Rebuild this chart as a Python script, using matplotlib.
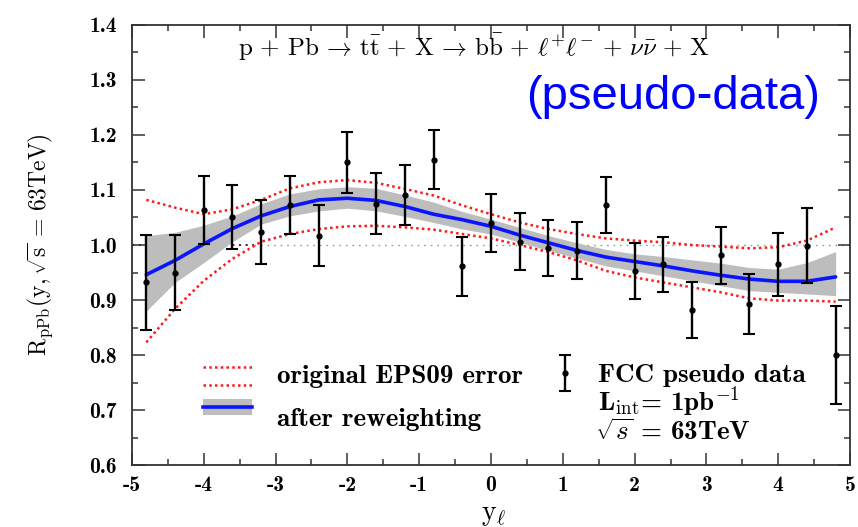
import numpy as np
import matplotlib
matplotlib.use("Agg")
import matplotlib.pyplot as plt
from matplotlib.ticker import MultipleLocator

plt.rcParams["mathtext.fontset"] = "cm"
plt.rcParams["axes.unicode_minus"] = False

# Rapidity grid shared by pseudo-data and curves
y_lep = [-4.8, -4.4, -4.0, -3.6, -3.2, -2.8, -2.4, -2.0, -1.6, -1.2, -0.8, -0.4,
         0.0, 0.4, 0.8, 1.2, 1.6, 2.0, 2.4, 2.8, 3.2, 3.6, 4.0, 4.4, 4.8]

# FCC pseudo data and uncertainties
data_val = [0.932, 0.950, 1.064, 1.051, 1.023, 1.073, 1.017, 1.150, 1.075, 1.091,
            1.155, 0.961, 1.040, 1.006, 0.994, 0.990, 1.073, 0.953, 0.965, 0.882,
            0.981, 0.893, 0.965, 0.999, 0.800]
data_err = [0.086, 0.068, 0.062, 0.058, 0.058, 0.053, 0.056, 0.055, 0.055, 0.055,
            0.054, 0.053, 0.053, 0.052, 0.051, 0.051, 0.051, 0.051, 0.050, 0.051,
            0.051, 0.054, 0.057, 0.068, 0.089]

# Reweighted central value and its band
rew_central = [0.946, 0.972, 1.002, 1.030, 1.053, 1.070, 1.082, 1.085, 1.081, 1.070,
               1.056, 1.046, 1.034, 1.018, 1.004, 0.990, 0.978, 0.970, 0.962, 0.953,
               0.945, 0.938, 0.934, 0.934, 0.942]
rew_upper = [1.017, 1.023, 1.036, 1.053, 1.075, 1.093, 1.102, 1.106, 1.103, 1.091,
             1.078, 1.061, 1.047, 1.032, 1.017, 1.004, 0.992, 0.984, 0.979, 0.973,
             0.967, 0.959, 0.956, 0.968, 0.988]
rew_lower = [0.880, 0.932, 0.968, 1.006, 1.038, 1.053, 1.062, 1.067, 1.062, 1.052,
             1.041, 1.029, 1.020, 1.005, 0.990, 0.976, 0.962, 0.953, 0.944, 0.935,
             0.926, 0.917, 0.914, 0.911, 0.908]

# Original EPS09 error envelope
eps_upper = [1.082, 1.068, 1.056, 1.065, 1.082, 1.103, 1.114, 1.118, 1.113, 1.102,
             1.090, 1.072, 1.056, 1.041, 1.029, 1.020, 1.012, 1.008, 1.005, 1.000,
             0.997, 0.994, 0.996, 1.008, 1.032]
eps_lower = [0.823, 0.884, 0.935, 0.975, 1.006, 1.020, 1.029, 1.034, 1.035, 1.032,
             1.028, 1.020, 1.012, 1.000, 0.987, 0.972, 0.953, 0.941, 0.932, 0.923,
             0.914, 0.903, 0.899, 0.899, 0.897]

x_ticks = [-5, -4, -3, -2, -1, 0, 1, 2, 3, 4, 5]
y_ticks = [0.6, 0.7, 0.8, 0.9, 1.0, 1.1, 1.2, 1.3, 1.4]

BOLD = "cmb10"
RED = "#ff1a1a"
BAND = "#bdbdbd"
BLUE = "#0a14ff"
dots = (0, (1.0, 1.3))
LEG_FS = 19.5

fig = plt.figure(figsize=(8.58, 5.27), dpi=100)
ax = fig.add_axes([0.1538, 0.1176, 0.9907 - 0.1538, 0.9526 - 0.1176])

# reference line at unity
ax.plot([-5, -3.3], [1.0, 1.0], color="#222222", lw=1.3, ls=(0, (1.2, 2.5)), zorder=1)
ax.plot([-3.3, 5], [1.0, 1.0], color="#999999", lw=1.0, ls=(0, (1.2, 3.5)), zorder=1)

ax.fill_between(y_lep, rew_lower, rew_upper, color=BAND, lw=0, zorder=2)
ax.plot(y_lep, eps_upper, color=RED, lw=1.8, ls=dots, zorder=3)
ax.plot(y_lep, eps_lower, color=RED, lw=1.8, ls=dots, zorder=3)
ax.plot(y_lep, rew_central, color=BLUE, lw=2.6, zorder=4, solid_capstyle="round")
ax.errorbar(y_lep, data_val, yerr=data_err, fmt="o", color="black", ms=3.5,
            elinewidth=1.7, capsize=4, capthick=1.5, zorder=5)

ax.set_xlim(-5, 5)
ax.set_ylim(0.6, 1.4)
ax.set_xticks(x_ticks)
ax.set_yticks(y_ticks)
ax.set_xticklabels([str(v) for v in x_ticks])
ax.set_yticklabels([f"{v:.1f}" for v in y_ticks])
ax.xaxis.set_minor_locator(MultipleLocator(0.5))
ax.yaxis.set_minor_locator(MultipleLocator(0.05))
ax.tick_params(which="both", direction="in", top=True, right=True, color="#333333", width=1.1)
ax.tick_params(which="major", length=9)
ax.tick_params(which="minor", length=4.5)
ax.tick_params(axis="y", which="major", pad=11)
ax.tick_params(axis="x", which="major", pad=8)
for lab in ax.get_xticklabels() + ax.get_yticklabels():
    lab.set_fontfamily(BOLD)
    lab.set_fontsize(15.5)
for sp in ax.spines.values():
    sp.set_color("#333333")
    sp.set_linewidth(1.3)

fig.text(40 / 858, 0.535, r"$\mathrm{R}_{\mathrm{pPb}}(\mathrm{y},\sqrt{\mathrm{s}}\,=\,63\mathrm{TeV})$",
         rotation=90, ha="center", va="center", fontsize=17)
fig.text(0.575, 0.025, r"$\mathrm{y}_{\ell}$", ha="center", va="center", fontsize=20)

ax.text(0.476, 0.95,
        r"$\mathrm{p}\,+\,\mathrm{Pb}\,\rightarrow\,\mathrm{t}\bar{\mathrm{t}}\,+\,\mathrm{X}\,\rightarrow\,"
        r"\mathrm{b}\bar{\mathrm{b}}\,+\,\ell^{+}\ell^{-}\,+\,\nu\bar{\nu}\,+\,\mathrm{X}$",
        transform=ax.transAxes, ha="center", va="center", fontsize=18)
ax.text(0.958, 0.836, "(pseudo-data)", transform=ax.transAxes, ha="right", va="center",
        color="#0000ff", fontsize=34, family="Liberation Sans")

# legend, left block
T = ax.transAxes
ax.plot([0.099, 0.167], [0.2234, 0.2234], transform=T, color=RED, lw=1.8, ls=dots)
ax.plot([0.099, 0.167], [0.1818, 0.1818], transform=T, color=RED, lw=1.8, ls=dots)
ax.fill_between([0.099, 0.167], [0.114, 0.114], [0.150, 0.150], transform=T, color=BAND, lw=0)
ax.plot([0.099, 0.167], [0.1325, 0.1325], transform=T, color=BLUE, lw=2.6)
ax.text(0.202, 0.202, "original EPS09 error", transform=T, ha="left", va="center",
        family=BOLD, fontsize=LEG_FS)
ax.text(0.202, 0.1045, "after reweighting", transform=T, ha="left", va="center",
        family=BOLD, fontsize=LEG_FS)

# legend, right block
ax.errorbar([0.603], [0.2098], yerr=[0.0405], transform=T, fmt="o", color="black", ms=3.5,
            elinewidth=1.7, capsize=4, capthick=1.5)
ax.text(0.649, 0.2045, "FCC pseudo data", transform=T, ha="left", va="center",
        family=BOLD, fontsize=LEG_FS)
ax.text(0.649, 0.144, r"L$_{\mathrm{int}}$= 1pb$^{\mathrm{-1}}$", transform=T, ha="left",
        va="center", family=BOLD, fontsize=LEG_FS)
ax.text(0.645, 0.0757, r"$\sqrt{s}$ = 63TeV", transform=T, ha="left", va="center",
        family=BOLD, fontsize=LEG_FS)

fig.savefig("out.png", dpi=100)
